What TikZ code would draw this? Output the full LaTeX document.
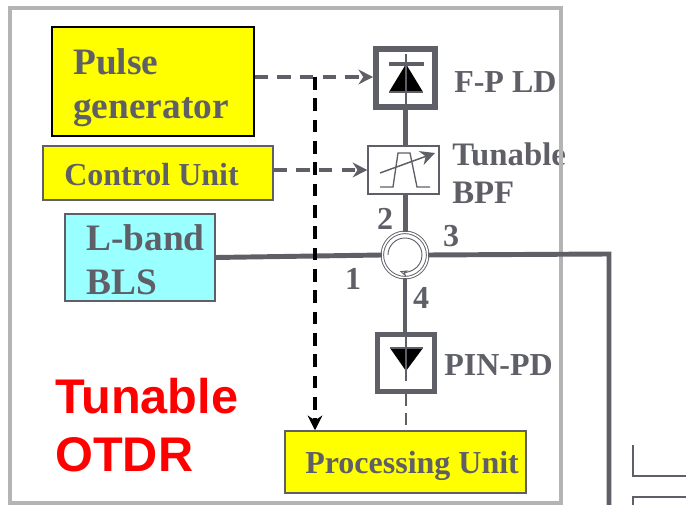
\documentclass[tikz,border=0pt]{standalone}
\usepackage{fontspec}
\setmainfont{Liberation Serif}
\newfontfamily\headfont{Liberation Sans}
\usetikzlibrary{arrows.meta}
\definecolor{inkgray}{HTML}{5F5F68}
\definecolor{framegray}{HTML}{B4B4B4}
\definecolor{blsblue}{HTML}{99FFFF}
\definecolor{boxyellow}{RGB}{255,255,0}

\begin{document}
\begin{tikzpicture}[x=0.75pt,y=-0.75pt,
    boxstyle/.style={rectangle,draw=inkgray,line width=1.1pt,fill=boxyellow,inner sep=0pt},
    labelstyle/.style={text=inkgray,font=\fontsize{24}{28.5}\selectfont\bfseries,align=left,inner sep=0pt},
    biglabel/.style={labelstyle,font=\fontsize{28}{33}\selectfont\bfseries},
    fibre/.style={draw=inkgray,line width=3.7pt},
    dashline/.style={draw=inkgray,line width=2.3pt,dash pattern=on 10pt off 7pt,-{Stealth[length=11pt,width=11pt]}},
    devstyle/.style={rectangle,draw=inkgray,line width=4.5pt,minimum size=44pt,inner sep=0pt}]

    \useasboundingbox (0,0) rectangle (686,505);

    % blocks
    \node [boxstyle,draw=black,minimum width=151.5pt,minimum height=81.75pt] (pulse) at (153,81.5) {};
    \node [boxstyle,minimum width=172.5pt,minimum height=40.5pt] (control) at (158,173) {};
    \node [boxstyle,fill=blsblue,minimum width=112.5pt,minimum height=65.25pt] (bls) at (140,257.5) {};
    \node [boxstyle,minimum width=180.75pt,minimum height=46.5pt] (proc) at (405.5,462) {};

    \node [devstyle] (ld) at (405.5,78) {};
    \node [devstyle,line width=3.8pt,minimum size=43pt] (pd) at (406,363) {};
    \node [rectangle,draw=inkgray,line width=1.1pt,minimum width=53pt,minimum height=36pt,inner sep=0pt] (bpf) at (403.5,170) {};
    \node [circle,draw=inkgray,double,double distance=1.2pt,line width=0.7pt,minimum size=34pt,inner sep=0pt] (circ) at (405,255) {};

    % labels
    \node [biglabel,anchor=west] (pulselabel) at (73,88) {Pulse\\generator};
    \node [labelstyle,anchor=west] (controllabel) at (64,175) {Control Unit};
    \node [biglabel,anchor=west] (blslabel) at (86,260) {L-band\\BLS};
    \node [labelstyle,anchor=west] (proclabel) at (305,466) {Processing Unit};
    \node [labelstyle,anchor=west] (ldlabel) at (454,82) {F-P LD};
    \node [labelstyle,anchor=west,font=\fontsize{24.6}{28.5}\selectfont\bfseries] (bpflabel) at (452,173) {Tunable\\BPF};
    \node [labelstyle,anchor=west] (pdlabel) at (444,365) {PIN-PD};
    \node [anchor=west,text=red,inner sep=0pt,font=\fontsize{36.5}{43}\selectfont\headfont\bfseries,align=left] (otdr) at (55,425) {Tunable\\OTDR};

    \foreach \n/\x/\y in {1/353/279,2/385/219,3/451/236,4/421/298}
       {\node [labelstyle] (port\n) at (\x,\y) {\n};}

    % outer frame
    \draw [framegray,line width=2.8pt] (10,8) rectangle (561,503);

    \coordinate (tap) at (315,77);
    \coordinate (bend) at (609,254);
    \coordinate (fibreend) at (609,505);

    % fibres
    \draw [fibre] (ld.south) -- (ld.south |- bpf.north);
    \draw [fibre] (ld.south |- bpf.south) -- (ld.south |- circ.north);
    \draw [fibre] (bls.east) -- (circ.west);
    \draw [fibre] (circ.east) -- (bend) -- (fibreend);
    \draw [fibre] (circ.south) -- (circ.south |- pd.north);

    % control lines
    \draw [dashline] (pulse.east |- tap) -- (tap -| ld.west);
    \draw [dashline] (control.east |- bpf.west) -- (bpf.west);
    \draw [dashline,draw=black,dash pattern=on 9.5pt off 6.5pt] (tap) -- (tap |- proc.north);
    \draw [draw=inkgray,line width=1.5pt,dash pattern=on 9pt off 5pt] (pd.south) -- (pd.south |- proc.north);

    % laser diode
    \fill [black] (406,64) -- (423,92) -- (389,92) -- cycle;
    \draw [inkgray,line width=3pt] (389,64) -- (424,64);
    \draw [inkgray,line width=2.2pt] (389,92) -- (423,92);
    \draw [inkgray,line width=2.2pt] (406,54) -- (406,109);

    % photodiode
    \fill [black] (390,348) -- (423,348) -- (406,371) -- cycle;
    \draw [inkgray,line width=2pt] (390,348) -- (423,348);
    \draw [inkgray,line width=1pt] (406,336) -- (406,381);

    % filter
    \draw [inkgray,line width=1pt] (380,187) -- (393,187) -- (398,153) -- (410,153) -- (417,187) -- (430,187);
    \draw [inkgray,line width=1.1pt,-{Stealth[length=11pt,width=11pt]}] (380,173) -- (435,153);

    % circulator
    \draw [inkgray,line width=0.7pt,-{Stealth[open,length=6pt,width=5pt]}] (388,255) arc [start angle=180,end angle=-108,radius=12.75pt];

    % next stage
    \draw [inkgray,line width=1pt] (633,445) -- (633,476) -- (686,476);
    \draw [inkgray,line width=1pt] (633,505) -- (633,497) -- (686,497);

\end{tikzpicture}
\end{document}
